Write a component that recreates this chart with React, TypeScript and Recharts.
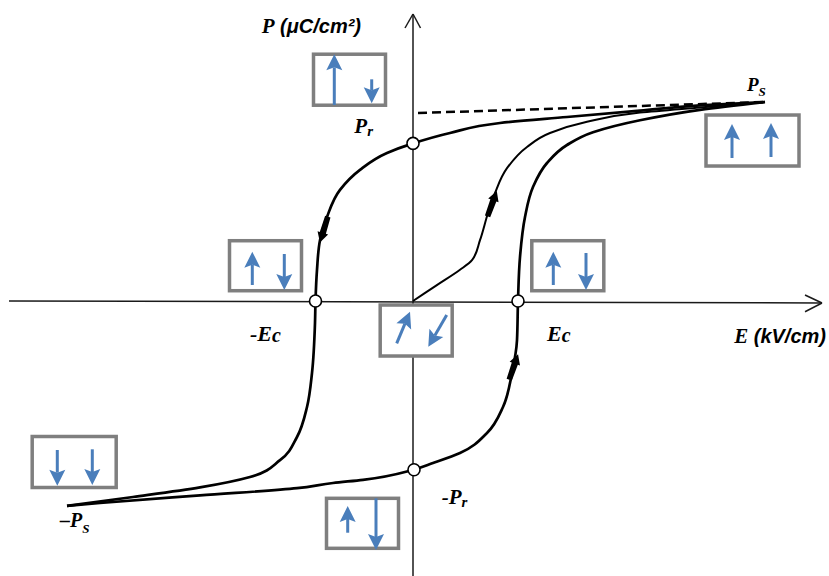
import React from 'react';
import { ComposedChart, Line, XAxis, YAxis, ReferenceLine, ReferenceDot } from 'recharts';

// ---- key loop values (E in kV/cm, P in µC/cm², schematic units) ----
const PS_E = 35.2;
const PS = 24.875;
const NEG_PS_E = -34.6;
const NEG_PS = -25.6;
const PR = 19.7;
const NEG_PR = -21.1;
const EC = 10.5;
const NEG_EC = -9.75;

// ---- upper (descending) branch: +Ps -> -Ps ----
const upperE = [PS_E, 28.7, 22.7, 15.4, 8.7, 3.7, 0, -2.6, -5.3, -7.3, -8.6, -9.3, -9.6, NEG_EC, -9.8, -10.1, -10.6, -11.6, -13.3, -16.3, -21.3, -28.0, NEG_PS_E];
const upperP = [PS, 24.45, 23.8, 23.0, 22.25, 21.0, PR, 18.5, 16.4, 13.9, 10.5, 7.6, 3.9, 0, -2.75, -9.0, -13.25, -17.0, -19.9, -22.0, -23.3, -24.5, NEG_PS];

// ---- lower (ascending) branch: -Ps -> +Ps ----
const lowerE = [NEG_PS_E, -31.3, -21.3, -11.6, -8.0, -5.0, 0, 2.0, 4.7, 7.4, 9.0, 9.9, 10.4, EC, 10.7, 11.2, 12.0, 13.4, 15.4, 18.0, 22.7, 28.7, PS_E];
const lowerP = [NEG_PS, -25.25, -24.3, -23.4, -22.75, -22.35, NEG_PR, -20.25, -19.0, -16.5, -13.25, -9.0, -4.9, 0, 5.5, 10.5, 14.25, 17.25, 19.5, 21.1, 22.6, 23.9, PS];

// ---- virgin (initial) curve: origin -> +Ps ----
const virginE = [0, 2.35, 4.7, 5.9, 6.7, 7.5, 8.2, 9.4, 11.4, 13.7, 17.4, 22.7, 28.7, PS_E];
const virginP = [0, 1.95, 3.9, 5.1, 7.6, 11.0, 13.5, 16.6, 19.25, 21.0, 22.4, 23.55, 24.2, PS];

// ---- saturation extrapolation (dashed) ----
const dashE = [0.5, PS_E];
const dashP = [23.5, PS];

const zip = (es: number[], ps: number[]) => es.map((e, i) => ({ e, p: ps[i] }));
const upperData = zip(upperE, upperP);
const lowerData = zip(lowerE, lowerP);
const virginData = zip(virginE, virginP);
const dashData = zip(dashE, dashP);

// ---- layout (chart frame) ----
const X_DOMAIN: [number, number] = [-41.3, 41.6];
const Y_DOMAIN: [number, number] = [-34.375, 37.625];

const SERIF = '"Liberation Serif", "DejaVu Serif", serif';
const SANS = '"Liberation Sans", Arial, sans-serif';
const BLUE = '#4a7ebb';
const GRAY = '#7f7f7f';

type Part = { t: string; font?: 'serif' | 'sans'; size?: number; dy?: number };

const makeText = (parts: Part[], anchor: 'start' | 'end' = 'start') => (props: any) => (
  <text x={props.cx} y={props.cy} textAnchor={anchor} fontWeight="bold" fontStyle="italic" fill="#000">
    {parts.map((p, i) => (
      <tspan key={i} fontFamily={p.font === 'sans' ? SANS : SERIF} fontSize={p.size ?? 21} dy={p.dy ?? 0}>
        {p.t}
      </tspan>
    ))}
  </text>
);

type Arr = [number, number, number, number];

const BlueArrow = ({ x1, y1, x2, y2 }: { x1: number; y1: number; x2: number; y2: number }) => {
  const dx = x2 - x1;
  const dy = y2 - y1;
  const len = Math.hypot(dx, dy);
  const ux = dx / len;
  const uy = dy / len;
  const hl = 16;
  const hw = 8;
  const notch = 3;
  const bx = x2 - ux * hl;
  const by = y2 - uy * hl;
  const nx = -uy;
  const ny = ux;
  const pts = [
    [x2, y2],
    [bx + nx * hw, by + ny * hw],
    [bx + ux * notch, by + uy * notch],
    [bx - nx * hw, by - ny * hw],
  ]
    .map((q) => q.join(','))
    .join(' ');
  return (
    <g>
      <line x1={x1} y1={y1} x2={bx + ux * notch} y2={by + uy * notch} stroke={BLUE} strokeWidth={3} />
      <polygon points={pts} fill={BLUE} />
    </g>
  );
};

const makeBox = (w: number, h: number, arrows: Arr[]) => (props: any) => {
  const { cx, cy } = props;
  return (
    <g>
      <rect x={cx - w / 2} y={cy - h / 2} width={w} height={h} fill="#fff" stroke={GRAY} strokeWidth={3.5} />
      {arrows.map((a, i) => (
        <BlueArrow key={i} x1={cx + a[0]} y1={cy + a[1]} x2={cx + a[2]} y2={cy + a[3]} />
      ))}
    </g>
  );
};

const makeFlow = (angle: number) => (props: any) => (
  <g transform={`translate(${props.cx},${props.cy}) rotate(${angle})`}>
    <polygon points="0,-14 5.5,-4 3.2,-4 2.8,13 -2.8,13 -3.2,-4 -5.5,-4" fill="#000" />
  </g>
);

// domain-state boxes (centre in E/P, size and arrow glyphs in px)
const boxes: { e: number; p: number; w: number; h: number; arrows: Arr[] }[] = [
  { e: -6.35, p: 27.66, w: 72, h: 51, arrows: [[-15.2, 25.3, -15.2, -25.4], [22.2, -0.4, 22.2, 23.6]] },
  { e: 33.95, p: 20.06, w: 93, h: 51, arrows: [[-20.5, 17.5, -20.5, -16.5], [18.5, 16.5, 18.5, -17.5]] },
  { e: -14.75, p: 4.41, w: 72, h: 50, arrows: [[-13.2, 19.3, -13.2, -14], [18.8, -11.7, 18.8, 24.3]] },
  { e: 15.48, p: 4.41, w: 72, h: 50, arrows: [[-14.5, 19.3, -14.5, -14], [18.2, -12.7, 18.2, 24.3]] },
  { e: 0.32, p: -3.69, w: 72, h: 51, arrows: [[-19.5, 12.8, -6.2, -18.8], [30.5, -15.5, 12.1, 16.2]] },
  { e: -33.88, p: -20.125, w: 84, h: 51, arrows: [[-16.9, -12, -16.9, 23.7], [18.1, -12.7, 18.1, 23]] },
  { e: -5.05, p: -27.79, w: 72, h: 50, arrows: [[-14.8, 9.4, -14.8, -17.3], [13.5, -25, 13.5, 26.7]] },
];

const flows = [
  { e: -8.9, p: 9.0, angle: 197 },
  { e: 10.05, p: -8.3, angle: 19 },
  { e: 7.9, p: 12.1, angle: 20 },
];

const markers = [
  { e: 0, p: PR },
  { e: NEG_EC, p: 0 },
  { e: EC, p: 0 },
  { e: 0.1, p: NEG_PR },
];

const labels: { e: number; p: number; parts: Part[]; anchor?: 'start' | 'end' }[] = [
  { e: -15.13, p: 33.46, parts: [{ t: 'P', size: 21 }, { t: ' (μC/cm²)', font: 'sans', size: 20 }] },
  { e: -5.87, p: 20.96, parts: [{ t: 'P', size: 21 }, { t: 'r', size: 15, dy: 3 }] },
  { e: 33.4, p: 26.3, parts: [{ t: 'P', size: 19 }, { t: 'S', size: 13, dy: 5 }] },
  { e: -16.3, p: -4.94, parts: [{ t: '-E', size: 22 }, { t: 'c', size: 20, dy: 1 }] },
  { e: 13.4, p: -4.94, parts: [{ t: 'E', size: 22 }, { t: 'c', size: 20, dy: 1 }] },
  { e: 2.87, p: -25.375, parts: [{ t: '-P', size: 21 }, { t: 'r', size: 15, dy: 3 }] },
  { e: -35.3, p: -28.2, parts: [{ t: '–P', size: 20 }, { t: 'S', size: 13, dy: 6 }] },
  { e: 41.3, p: -5.25, parts: [{ t: 'E', size: 21 }, { t: ' (kV/cm)', font: 'sans', size: 20 }], anchor: 'end' },
];

export default function App() {
  return (
    <div style={{ position: 'absolute', left: 0, top: 0, background: '#fff' }}>
      <ComposedChart width={829} height={576} margin={{ top: 0, right: 0, bottom: 0, left: 0 }}>
        <XAxis type="number" dataKey="e" domain={X_DOMAIN} hide allowDataOverflow />
        <YAxis type="number" dataKey="p" domain={Y_DOMAIN} hide allowDataOverflow />

        {/* axes */}
        <ReferenceLine segment={[{ x: -40.4, y: 0 }, { x: 40.9, y: -0.25 }]} stroke="#1a1a1a" strokeWidth={1.5} />
        <ReferenceLine segment={[{ x: 39.2, y: 0.75 }, { x: 40.9, y: -0.25 }]} stroke="#1a1a1a" strokeWidth={1.5} />
        <ReferenceLine segment={[{ x: 39.2, y: -1.34 }, { x: 40.9, y: -0.25 }]} stroke="#1a1a1a" strokeWidth={1.5} />
        <ReferenceLine segment={[{ x: 0, y: -34.375 }, { x: 0, y: 35.875 }]} stroke="#1a1a1a" strokeWidth={1.5} />
        <ReferenceLine segment={[{ x: -0.8, y: 34.125 }, { x: 0, y: 35.875 }]} stroke="#1a1a1a" strokeWidth={1.5} />
        <ReferenceLine segment={[{ x: 0.75, y: 34.125 }, { x: 0, y: 35.875 }]} stroke="#1a1a1a" strokeWidth={1.5} />

        <Line data={dashData} dataKey="p" type="linear" stroke="#000" strokeWidth={2.5} strokeDasharray="9 5" dot={false} activeDot={false} isAnimationActive={false} />
        <Line data={virginData} dataKey="p" type="monotoneY" stroke="#000" strokeWidth={2} dot={false} activeDot={false} isAnimationActive={false} />
        <Line data={upperData} dataKey="p" type="monotoneY" stroke="#000" strokeWidth={2.7} strokeLinejoin="round" dot={false} activeDot={false} isAnimationActive={false} />
        <Line data={lowerData} dataKey="p" type="monotoneY" stroke="#000" strokeWidth={2.7} strokeLinejoin="round" dot={false} activeDot={false} isAnimationActive={false} />

        {markers.map((m, i) => (
          <ReferenceDot key={`m${i}`} x={m.e} y={m.p} r={6} fill="#fff" stroke="#000" strokeWidth={1.6} />
        ))}
        {flows.map((f, i) => (
          <ReferenceDot key={`f${i}`} x={f.e} y={f.p} r={1} shape={makeFlow(f.angle)} />
        ))}
        {boxes.map((b, i) => (
          <ReferenceDot key={`b${i}`} x={b.e} y={b.p} r={1} shape={makeBox(b.w, b.h, b.arrows)} />
        ))}
        {labels.map((l, i) => (
          <ReferenceDot key={`l${i}`} x={l.e} y={l.p} r={1} shape={makeText(l.parts, l.anchor)} />
        ))}
      </ComposedChart>
    </div>
  );
}
